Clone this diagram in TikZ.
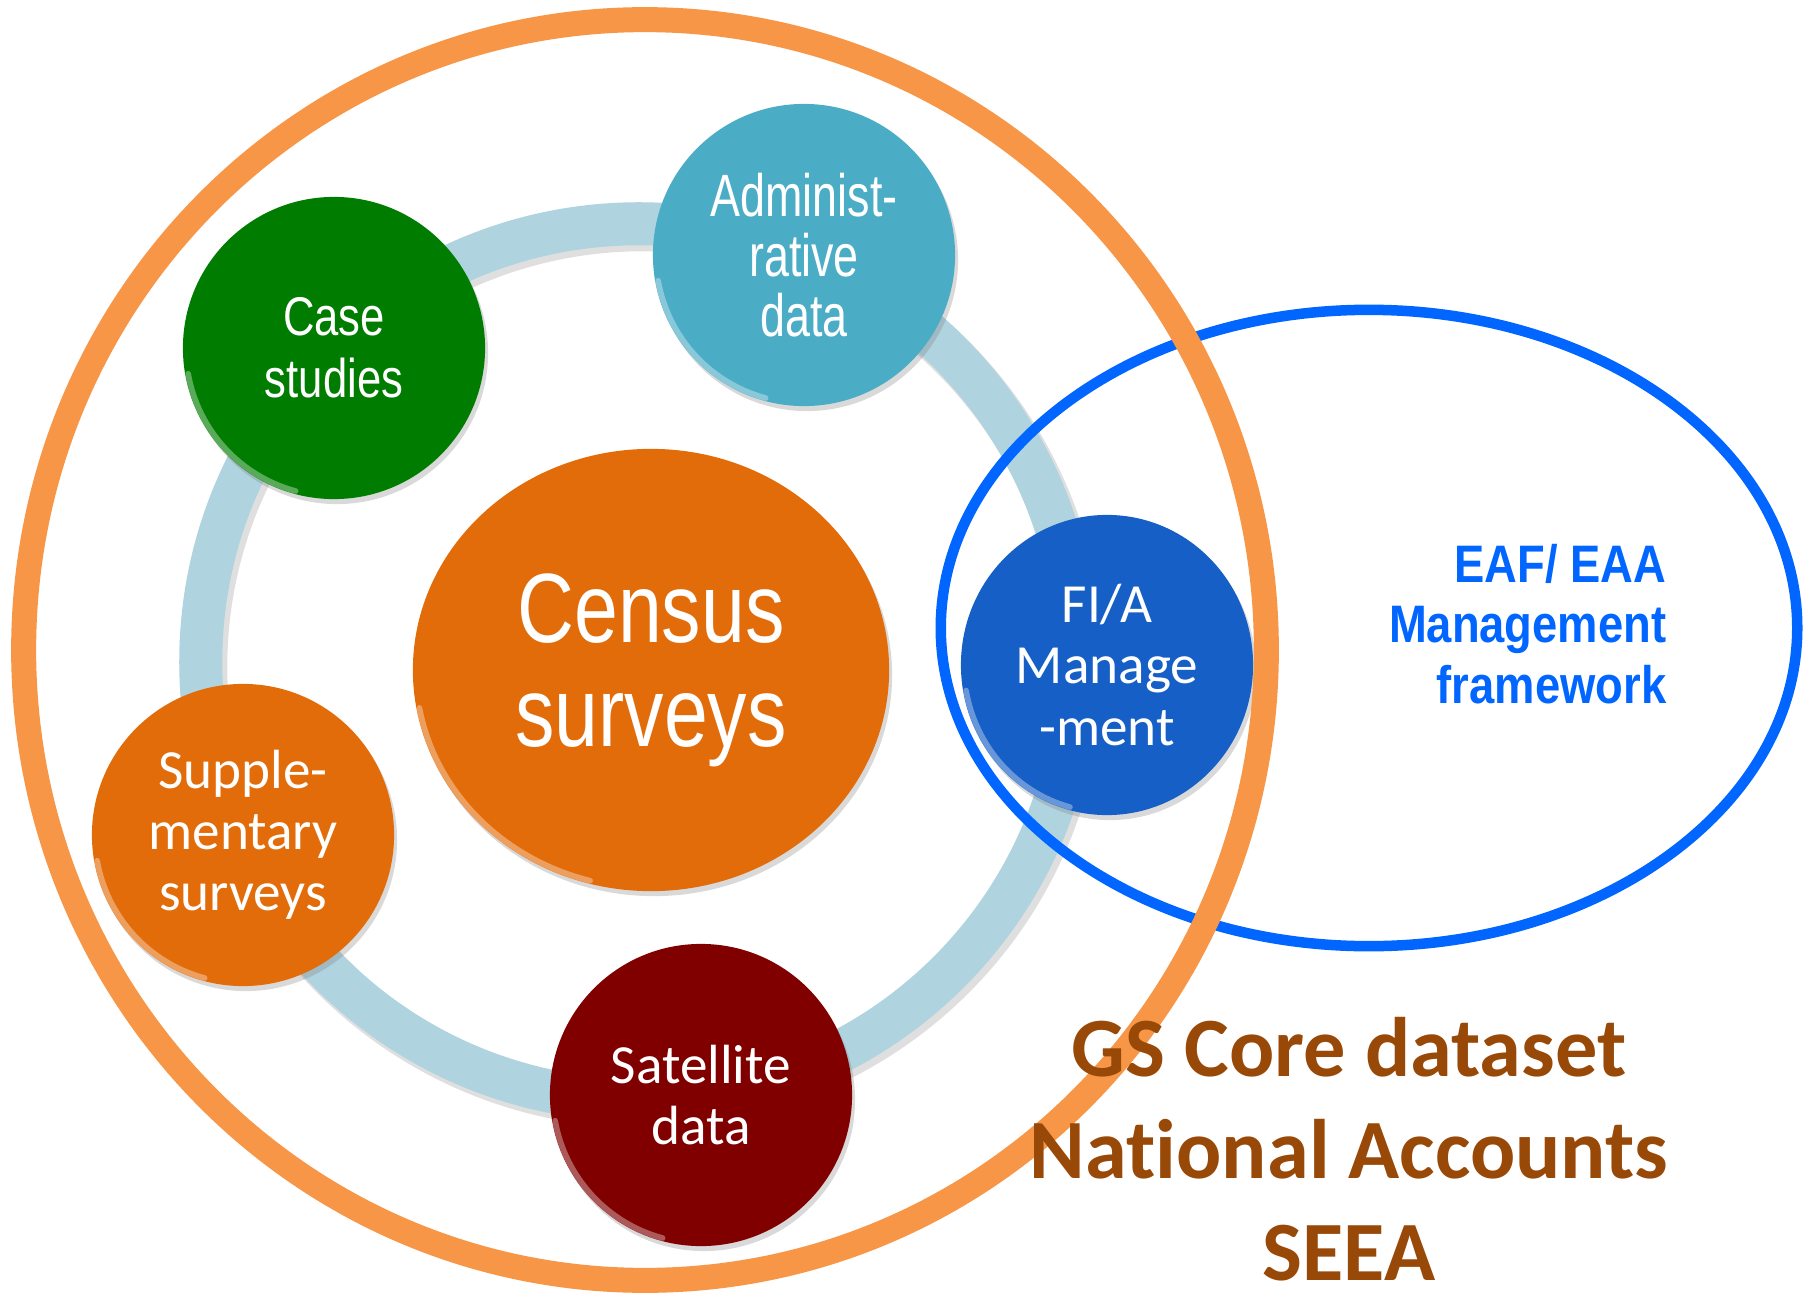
\documentclass[tikz,border=0pt]{standalone}
\usepackage{xcolor}
\usepackage{fontspec}
\setmainfont{Carlito}[Ligatures=CommonOff]
\newfontfamily\narrowfont[FakeStretch=0.80]{Liberation Sans}
\newfontfamily\admfont[FakeStretch=0.75]{Liberation Sans}
\newfontfamily\eaffont[FakeStretch=0.86]{Liberation Sans}
\usepackage{tikz}
\usetikzlibrary{shapes.geometric,shadows}

\definecolor{ringblue}{HTML}{AFD3DF}
\definecolor{rimorange}{HTML}{F79646}
\definecolor{fillorange}{HTML}{E36C0A}
\definecolor{casegreen}{HTML}{007D00}
\definecolor{adminaqua}{HTML}{4BACC6}
\definecolor{fiablue}{HTML}{165FC6}
\definecolor{satred}{HTML}{800000}
\definecolor{eafblue}{HTML}{0066FF}
\definecolor{gsbrown}{HTML}{984807}

\begin{document}
\begin{tikzpicture}[x=0.01cm, y=-0.01cm,
        bubble/.style={circle, minimum size=3.02cm, inner sep=0pt, text=white, align=center,
            drop shadow={shadow xshift=0.03cm, shadow yshift=-0.05cm, opacity=0.3}},
        smalltext/.style={font=\fontsize{15.7}{17.4}\selectfont},
        rimlight/.style={white, opacity=0.35, line width=1.6pt, line cap=round}]
        \useasboundingbox (0, 0) rectangle (1806, 1297);

        % ring joining the bubbles
        \draw[gray!50, opacity=0.5, line width=0.45cm] (643, 667) circle[radius=4.38cm];
        \draw[ringblue, line width=0.43cm] (639, 662) circle[radius=4.38cm];

        % outer ellipse on the right
        \draw[eafblue, line width=0.105cm] (1369, 628) ellipse[x radius=4.28cm, y radius=3.18cm];

        \node[bubble, ellipse, minimum width=4.76cm, minimum height=4.42cm, fill=fillorange,
            font=\narrowfont\fontsize{28}{29.6}\selectfont] (census) at (651, 670) {Census\\surveys};

        \node[bubble, fill=casegreen, font=\narrowfont\fontsize{15.5}{17.6}\selectfont]
            (case) at (334, 348) {Case\\studies};
        \node[bubble, fill=adminaqua, font=\admfont\fontsize{17}{17}\selectfont]
            (admin) at (804, 255) {Administ-\\rative\\data};
        \node[bubble, ellipse, minimum width=2.92cm, minimum height=3.0cm, fill=fiablue, smalltext]
            (fia) at (1107, 665) {FI/A\\Manage\\-ment};
        \node[bubble, fill=fillorange, smalltext] (supp) at (243, 835) {Supple-\\mentary\\surveys};
        \node[bubble, fill=satred, smalltext] (sat) at (701, 1095) {Satellite\\data};

        % glossy rims
        \foreach \n in {case, admin, supp, sat}
            \draw[rimlight] (\n.center) ++(190:1.48cm) arc[start angle=190, end angle=255, radius=1.48cm];
        \draw[rimlight] (census.center) ++(190:2.35cm and 2.18cm)
            arc[start angle=190, end angle=255, x radius=2.35cm, y radius=2.18cm];
        \draw[rimlight] (fia.center) ++(190:1.43cm and 1.47cm)
            arc[start angle=190, end angle=255, x radius=1.43cm, y radius=1.47cm];

        % big orange circle
        \draw[rimorange, line width=0.25cm] (645, 650) ellipse[x radius=6.21cm, y radius=6.30cm];

        \node[anchor=east, inner sep=0pt, align=right, text=eafblue,
            font=\eaffont\bfseries\fontsize{15}{17.2}\selectfont]
            (eaf) at (1667, 624) {EAF/ EAA\\Management\\framework};
        \node[inner sep=0pt, align=center, text=gsbrown, font=\bfseries\fontsize{24}{29}\selectfont]
            (gs) at (1349, 1149) {GS Core dataset\\National Accounts\\SEEA};
\end{tikzpicture}
\end{document}
